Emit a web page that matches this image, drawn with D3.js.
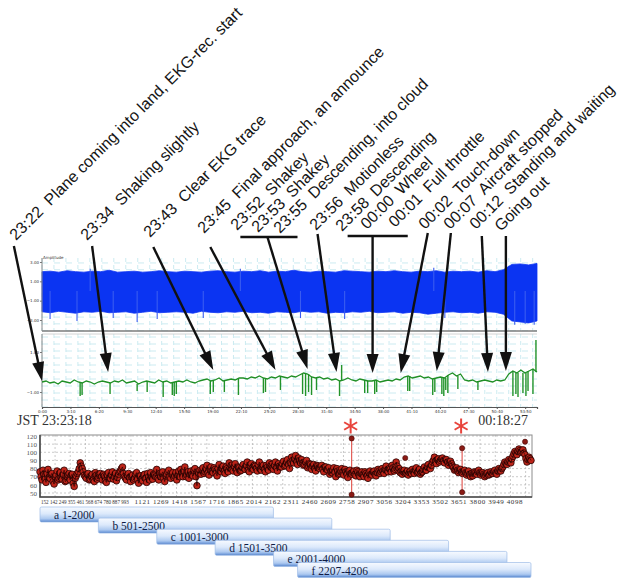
<!DOCTYPE html>
<html>
<head>
<meta charset="utf-8">
<script src="https://cdn.jsdelivr.net/npm/d3@7"></script>
<style>
  html, body { margin: 0; padding: 0; background: #fff; }
  svg { display: block; }
</style>
</head>
<body>
<svg id="chart" width="628" height="579"></svg>
<script>
// ------------------------------------------------------------------
// Recording: in-flight EKG during landing, with heart-rate trend below
// ------------------------------------------------------------------
const recordStartLabel = "JST 23:23:18";
const recordEndLabel = "00:18:27";
const recordSeconds = 3309;

// Event log (time, note)
const eventTimes = ["23:22", "23:34", "23:43", "23:45", "23:52", "23:53", "23:55",
  "23:56", "23:58", "00:00", "00:01", "00:02", "00:07", "00:12", ""];
const eventNotes = ["Plane coming into land, EKG-rec. start", "Shaking slightly",
  "Clear EKG trace", "Final approach, an announce", "Shakey", "Shakey",
  "Descending, into cloud", "Motionless", "Descending", "Wheel", "Full throttle",
  "Touch-down", "Aircraft stopped", "Standing and waiting", "Going out"];

// Callout arrows: where each one points on the EKG (seconds, trace level)
const arrowTargetSec = [0, 442, 1145, 1561, 1775, 1969, 2210, 2398, 2639, 2981, 3101];
const arrowTargetLevel = [-0.45, 0, 0.1, 0.1, 0.15, 0, -0.05, -0.05, 0.05, 0, 0.05];
// ... and where each leaves the label block (seconds along the same axis)
const arrowSourceSec = [-188, 335, 744, 1125, 1507, 1842, 2210, 2579, 2733, 2940, 3101];
// Grouping brackets under several labels (seconds)
const bracketFrom = [1326, 2043];
const bracketTo = [1708, 2445];

// Raw signal channel: envelope of the dense trace
const rawUpper = [2.0,2.05,1.95,2.1,2.0,1.95,2.05,2.0,2.15,1.95,2.0,2.05,1.95,2.0,2.1,2.0,
  1.95,2.05,2.0,1.95,2.05,2.1,2.0,1.95,2.05,2.0,2.1,1.95,2.05,2.0,2.15,2.0,1.95,2.05,2.0,
  1.95,2.1,2.05,2.0,1.95,2.05,2.0,2.1,2.0,1.95,2.05,2.0,2.1,1.95,2.05,2.0,2.05,1.95,2.1,
  2.0,2.2,2.75,2.8,2.7,2.85];
const rawLower = [-2.15,-2.25,-2.1,-2.2,-2.3,-2.15,-2.2,-2.1,-2.25,-2.2,-2.15,-2.3,-2.2,
  -2.1,-2.25,-2.2,-2.15,-2.2,-2.3,-2.1,-2.2,-2.25,-2.15,-2.2,-2.1,-2.25,-2.2,-2.3,-2.15,
  -2.2,-2.25,-2.1,-2.2,-2.15,-2.3,-2.2,-2.25,-2.15,-2.2,-2.1,-2.25,-2.2,-2.15,-2.3,-2.2,
  -2.25,-2.4,-2.3,-2.2,-2.15,-2.25,-2.2,-2.3,-2.15,-2.2,-2.4,-3.1,-3.2,-3.3,-3.1];
// Isolated excursions of the raw channel [seconds, amplitude]
const rawSpikes = [[54,-2.9],[234,-3.1],[322,2.3],[476,-2.8],[636,-3.2],[770,-2.9],
  [1078,-2.8],[1326,2.3],[1728,-2.8],[2023,-2.9],[2619,2.4],[2693,-2.8],[3160,-3.5],
  [3230,-3.4],[3290,-3.5]];

// Filtered EKG trace (baseline samples, evenly spaced over the recording)
const ekgTrace = [-0.5,-0.45,-0.55,-0.5,-0.6,-0.45,-0.5,-0.55,-0.4,-0.5,-0.55,-0.45,-0.5,
  -0.6,-0.5,
  -0.45,-0.5,-0.55,-0.45,-0.5,-0.4,-0.55,-0.5,-0.45,-0.6,-0.5,-0.45,-0.5,-0.55,-0.4,-0.5,
  -0.45,-0.55,-0.5,-0.45,-0.5,-0.4,-0.5,-0.55,-0.45,
  -0.4,-0.35,-0.45,-0.4,-0.3,-0.45,-0.4,-0.35,-0.4,-0.3,
  -0.3,-0.35,-0.25,-0.3,-0.2,-0.3,-0.35,-0.25,-0.3,-0.2,-0.25,-0.3,-0.2,-0.25,-0.15,
  -0.05,-0.1,
  -0.25,-0.3,-0.25,-0.35,-0.3,
  -0.4,-0.35,-0.45,-0.4,-0.3,-0.4,-0.45,-0.35,-0.4,-0.45,
  -0.45,-0.4,-0.5,-0.45,-0.4,-0.45,-0.35,-0.4,
  -0.25,-0.2,-0.3,-0.25,-0.2,
  -0.3,-0.25,-0.35,-0.3,-0.25,-0.3,
  -0.15,-0.05,-0.2,-0.1,
  -0.4,-0.45,-0.4,-0.5,-0.45,-0.4,-0.45,-0.5,-0.4,-0.45,-0.4,
  -0.1,0.05,-0.05,0.1,-0.05,0.05,0.15,0.0];
// Artefact deflections on the EKG [seconds, amplitude]
const ekgSpikes = [[255,-1.2],[268,-1.15],[455,-1.1],[636,-0.95],[703,-1.0],[810,-1.25],
  [871,-1.15],[884,-1.2],[898,-1.1],[1125,-1.1],[1145,-1.0],[1219,-1.0],[1313,-1.15],
  [1480,-1.05],[1494,-1.0],[1594,-0.9],[1742,-1.1],[1762,-1.2],[1782,-1.0],[1802,-1.15],
  [1835,-0.9],[1989,-1.2],[2003,0.35],[2157,-1.05],[2177,-1.05],[2224,-1.1],[2237,-1.0],
  [2445,-0.95],[2458,-0.95],[2612,-1.15],[2626,-1.0],[2673,-1.1],[2686,-1.2],[2699,-0.9],
  [2713,-1.05],[2780,-0.85],[2914,-0.9],[3148,-1.2],[3168,-1.1],[3182,-1.25],[3215,-1.05],
  [3235,-1.2],[3249,-0.95],[3282,-1.1],[3302,1.6]];

// Heart rate (bpm) over beat index 1..4206: even-numbered samples ...
const beatCount = 4206;
const heartRate = [
  76,66,73,63,79, 68,74,61,72,66, 75,67,78,65,72, 66,73,58,71,76, 87,80,72,68,74,
  67,73,64,72,69, 74,66,71,63,75, 68,76,70,65,73, 77,82,70,66,74, 64,72,68,75,62,
  71,65,73,63,70, 75,67,72,79,66, 70,76,64,73,78, 68,75,71,66,77, 79,70,82,72,68,
  77,71,80,59,74, 73,81,76,84,72, 82,75,79,71,85, 76,83,74,80,87, 84,77,86,75,81,
  78,85,79,88,76, 86,79,83,77,88, 78,84,76,82,87, 85,79,88,77,83, 82,89,84,91,80,
  94,87,96,85,90, 91,84,88,81,86, 79,85,77,83,80, 84,76,82,78,73, 75,81,70,77,74,
  80,72,76,69,78, 73,77,71,76,70, 76,70,74,68,77, 72,77,71,79,74, 80,74,83,76,79,
  84,77,88,78,75, 73,78,75,72,77, 79,74,81,76,73, 76,82,78,85,80, 88,94,86,92,90,
  93,87,91,84,89, 83,78,81,75,79, 74,78,72,77,70, 71,76,73,78,72, 75,70,74,72,76,
  74,78,73,80,77, 82,88,85,91,87, 95,101,97,104,100, 103,97,88,94,90];
// ... and the samples lying between them
const heartRateMid = [
  70,78,67,74,69, 73,64,70,77,68, 69,73,64,70,74, 72,62,68,74,80, 83,76,70,73,66,
  71,66,75,67,73, 70,73,65,72,68, 72,67,74,69,76, 80,74,68,72,69, 70,66,73,67,71,
  67,72,68,74,66, 69,73,70,68,74, 74,68,71,76,70, 73,69,75,72,70, 75,77,70,76,73,
  73,78,70,76,78, 78,74,80,75,79, 77,81,74,80,77, 80,77,82,76,81, 79,83,78,82,77,
  82,80,84,78,83, 81,84,80,85,79, 82,79,84,78,83, 80,84,81,86,82, 86,83,88,85,87,
  90,92,88,93,87, 87,85,90,83,85, 83,80,84,81,82, 80,82,79,81,76, 78,76,80,73,76,
  76,79,73,77,74, 75,73,78,72,74, 73,76,71,75,73, 76,73,75,77,76, 77,79,78,80,76,
  81,79,83,80,77, 76,74,77,75,74, 76,78,75,79,75, 79,78,82,81,84, 90,89,91,88,92,
  90,91,88,87,86, 81,79,78,77,76, 76,75,74,73,74, 74,75,76,75,74, 73,72,75,73,74,
  76,75,77,78,80, 85,86,88,89,92, 98,99,101,102,101, 99,92,91,92];
// Motion artefacts (beat index, spurious high and low readings)
const artefactBeat = [2670, 3616];
const artefactHigh = [117, 105];
const artefactLow = [48, 51];
// Stray isolated readings
const strayBeat = [3129, 4155];
const strayRate = [93, 113];

const hrTicks = [50, 60, 70, 80, 90, 100, 110, 120];
const beatLabelsShort = ["152","142","249","355","461","568","674","780","887","993"];
const beatLabelsLong = ["1121","1269","1418","1567","1716","1865","2014","2162","2311",
  "2460","2609","2758","2907","3056","3204","3353","3502","3651","3800","3949","4098"];

// Analysis windows (beat ranges)
const windowNames = ["a", "b", "c", "d", "e", "f"];
const windowStart = [1, 501, 1001, 1501, 2001, 2207];
const windowEnd = [2000, 2500, 3000, 3500, 4000, 4206];

// ------------------------------------------------------------------
const svg = d3.select("#chart");
const defs = svg.append("defs");

// ---------------- EKG panels ----------------
const tx = d3.scaleLinear().domain([0, recordSeconds]).range([42, 537]);
const topY = d3.scaleLinear().domain([-3, 3]).range([320, 262]);
const lowY = d3.scaleLinear().domain([-1, 1]).range([392, 352]);
const panelTop = [258, 331], panelLow = [334, 407];

const gridCol = "#bfe6ee";
const grid = svg.append("g");
const vSec = d3.range(0, recordSeconds + 1, 80);
[panelTop, panelLow].forEach(p => {
  grid.selectAll(null).data(vSec).join("line")
    .attr("x1", d => tx(d)).attr("x2", d => tx(d))
    .attr("y1", p[0]).attr("y2", p[1])
    .attr("stroke", gridCol).attr("stroke-width", 0.8)
    .attr("stroke-dasharray", "4,3");
});
grid.selectAll(null).data(d3.range(-4.1, 3.5, 0.7)).join("line")
  .attr("x1", 42).attr("x2", 537)
  .attr("y1", d => topY(d)).attr("y2", d => topY(d))
  .attr("stroke", gridCol).attr("stroke-width", 0.8).attr("stroke-dasharray", "6,6");
grid.selectAll(null).data(d3.range(-1.75, 1.95, 0.35)).join("line")
  .attr("x1", 42).attr("x2", 537)
  .attr("y1", d => lowY(d)).attr("y2", d => lowY(d))
  .attr("stroke", gridCol).attr("stroke-width", 0.8).attr("stroke-dasharray", "6,6");

// raw channel
const rawStep = recordSeconds / (rawUpper.length - 1);
const blue = "#0b34f2";
svg.append("path")
  .datum(d3.range(rawUpper.length))
  .attr("d", d3.area()
    .x(i => tx(i * rawStep))
    .y0(i => topY(rawLower[i]))
    .y1(i => topY(rawUpper[i])))
  .attr("fill", blue).attr("stroke", blue).attr("stroke-width", 0.8);
svg.append("g").selectAll("line").data(rawSpikes).join("line")
  .attr("x1", d => tx(d[0])).attr("x2", d => tx(d[0]))
  .attr("y1", topY(0)).attr("y2", d => topY(d[1]))
  .attr("stroke", "#3a5cf0").attr("stroke-width", 1.1);

// panel frames
svg.append("line").attr("x1", 42).attr("x2", 537).attr("y1", 331).attr("y2", 331)
  .attr("stroke", "#7d7d7d").attr("stroke-width", 1.6);
svg.append("line").attr("x1", 42).attr("x2", 537).attr("y1", 334).attr("y2", 334)
  .attr("stroke", "#c9c9c9").attr("stroke-width", 0.8);
svg.append("line").attr("x1", 42).attr("x2", 42).attr("y1", panelTop[0]).attr("y2", panelTop[1])
  .attr("stroke", "#8a8a8a").attr("stroke-width", 1);
svg.append("line").attr("x1", 42).attr("x2", 42).attr("y1", panelLow[0]).attr("y2", panelLow[1])
  .attr("stroke", "#8a8a8a").attr("stroke-width", 1);

// tiny axis annotations of the viewer
const tiny = "font-family:'DejaVu Sans',sans-serif;font-size:4px;fill:#333";
svg.append("text").attr("x", 43).attr("y", 259).attr("style", tiny).text("Amplitude");
const topAxis = svg.append("g").attr("transform", "translate(42,0)")
  .call(d3.axisLeft(topY).tickValues([3, 1, -1, -3]).tickSize(2).tickPadding(1)
    .tickFormat(d => d3.format(".2f")(d)));
topAxis.select(".domain").remove();
topAxis.selectAll("text").attr("style", tiny);
topAxis.selectAll("line").attr("stroke", "#777");
const lowAxis = svg.append("g").attr("transform", "translate(42,0)")
  .call(d3.axisLeft(lowY).tickValues([1, -1]).tickSize(2).tickPadding(1)
    .tickFormat(d => d3.format(".2f")(d)));
lowAxis.select(".domain").remove();
lowAxis.selectAll("text").attr("style", tiny);
lowAxis.selectAll("line").attr("stroke", "#777");
const timeAxis = svg.append("g").attr("transform", "translate(0,407)")
  .call(d3.axisBottom(tx).tickValues(d3.range(0, recordSeconds, 190)).tickSize(2).tickPadding(1)
    .tickFormat(d => Math.floor(d / 60) + ":" + d3.format("02")(d % 60)));
timeAxis.select(".domain").attr("stroke", "#555").attr("stroke-width", 1.2);
timeAxis.selectAll("text").attr("style", tiny);
timeAxis.selectAll("line").attr("stroke", "#555");

// filtered EKG
const ekgStep = recordSeconds / (ekgTrace.length - 1);
svg.append("g").selectAll("line").data(ekgSpikes).join("line")
  .attr("x1", d => tx(d[0])).attr("x2", d => tx(d[0]))
  .attr("y1", d => lowY(ekgTrace[Math.round(d[0] / ekgStep)]))
  .attr("y2", d => lowY(d[1]))
  .attr("stroke", "#23932a").attr("stroke-width", 1.4);
svg.append("path")
  .datum(ekgTrace)
  .attr("d", d3.line().x((d, i) => tx(i * ekgStep)).y(d => lowY(d)))
  .attr("fill", "none").attr("stroke", "#1f8f25").attr("stroke-width", 1.3);

// ---------------- Callouts ----------------
const labelAnchor = [[16,241],[87,241],[150,238],[204,234],[237,231],[258,233],[280,234],
  [316,231],[342,232],[367,230],[395,228],[425,230],[450,230],[476,230],[501,232]];
const arrowTopY = [246, 246, 247, 247, 237, 234, 236, 233, 233, 236, 236];
const bracketY = [237, 236];

const notes = svg.append("g")
  .attr("style", "font-family:'Liberation Sans',Arial,sans-serif;font-size:16px;fill:#151515");
notes.selectAll("text").data(eventNotes).join("text")
  .attr("transform", (d, i) => `translate(${labelAnchor[i][0]},${labelAnchor[i][1]}) rotate(-45)`)
  .text((d, i) => eventTimes[i] ? eventTimes[i] + "\u00a0\u00a0" + d : d);

const arrows = svg.append("g");
arrows.selectAll("line.bracket").data(bracketFrom).join("line").attr("class", "bracket")
  .attr("x1", d => tx(d)).attr("x2", (d, i) => tx(bracketTo[i]))
  .attr("y1", (d, i) => bracketY[i]).attr("y2", (d, i) => bracketY[i])
  .attr("stroke", "#111").attr("stroke-width", 2.4);

const headLen = 19, headHalf = 6;
arrowTargetSec.forEach((sec, i) => {
  const x0 = tx(arrowSourceSec[i]), y0 = arrowTopY[i];
  const x1 = tx(sec), y1 = lowY(arrowTargetLevel[i]);
  const len = Math.hypot(x1 - x0, y1 - y0);
  const ux = (x1 - x0) / len, uy = (y1 - y0) / len;
  const bx = x1 - ux * headLen, by = y1 - uy * headLen;
  arrows.append("line")
    .attr("x1", x0).attr("y1", y0).attr("x2", bx + ux * 2).attr("y2", by + uy * 2)
    .attr("stroke", "#111").attr("stroke-width", 2.4);
  arrows.append("path")
    .attr("d", `M${x1},${y1}L${bx - uy * headHalf},${by + ux * headHalf}L${bx + uy * headHalf},${by - ux * headHalf}Z`)
    .attr("fill", "#111");
});

// ---------------- Recording span ----------------
const serif = "font-family:'Liberation Serif','Times New Roman',serif;";
svg.append("text").attr("x", 17).attr("y", 425)
  .attr("style", serif + "font-size:14px;fill:#333").text(recordStartLabel);
svg.append("text").attr("x", 528).attr("y", 425).attr("text-anchor", "end")
  .attr("style", serif + "font-size:14px;fill:#333").text(recordEndLabel);

// ---------------- Heart-rate trend ----------------
const hrX = d3.scaleLinear().domain([1, beatCount]).range([40, 531]);
const hrY = d3.scaleLinear().domain([50, 120]).range([493, 436]);
const box = { x0: 40, x1: 532, y0: 435, y1: 497 };

const hrGrid = svg.append("g");
hrGrid.selectAll("line.h").data(hrTicks).join("line").attr("class", "h")
  .attr("x1", box.x0).attr("x2", box.x1)
  .attr("y1", d => hrY(d)).attr("y2", d => hrY(d))
  .attr("stroke", "#b3b3b3").attr("stroke-width", 0.7).attr("stroke-dasharray", "2,2");
hrGrid.selectAll("line.v").data(d3.range(130, beatCount, 130)).join("line").attr("class", "v")
  .attr("x1", d => hrX(d)).attr("x2", d => hrX(d))
  .attr("y1", box.y0).attr("y2", box.y1)
  .attr("stroke", "#b3b3b3").attr("stroke-width", 0.7).attr("stroke-dasharray", "2,2");

svg.append("rect").attr("x", box.x0).attr("y", box.y0)
  .attr("width", box.x1 - box.x0).attr("height", box.y1 - box.y0)
  .attr("fill", "none").attr("stroke", "#8c8c8c").attr("stroke-width", 1);
svg.append("path").attr("d", `M${box.x0},${box.y0}V${box.y1}H${box.x1}`)
  .attr("fill", "none").attr("stroke", "#4a4a4a").attr("stroke-width", 1.6);

const hrAxis = svg.append("g").attr("transform", `translate(${box.x0},0)`)
  .call(d3.axisLeft(hrY).tickValues(hrTicks).tickSize(0).tickPadding(3));
hrAxis.select(".domain").remove();
hrAxis.selectAll("text").attr("style", serif + "font-size:7px;fill:#555");

// merge both sample sets in beat order
const beatStep = (beatCount - 1) / (heartRate.length - 1);
const hrSeries = [];
heartRate.forEach((v, i) => {
  hrSeries.push({ beat: 1 + i * beatStep, bpm: v });
  if (i < heartRateMid.length) hrSeries.push({ beat: 1 + (i + 0.5) * beatStep, bpm: heartRateMid[i] });
});

// artefact excursions
artefactBeat.forEach((b, i) => {
  svg.append("line").attr("x1", hrX(b)).attr("x2", hrX(b))
    .attr("y1", hrY(artefactHigh[i])).attr("y2", hrY(artefactLow[i]))
    .attr("stroke", "#e0504a").attr("stroke-width", 1.1);
});

svg.append("g").selectAll("circle").data(hrSeries).join("circle")
  .attr("cx", d => hrX(d.beat)).attr("cy", d => hrY(d.bpm)).attr("r", 3.3)
  .attr("fill", "#bd2419").attr("stroke", "#240202").attr("stroke-width", 0.8);
svg.append("path").datum(hrSeries)
  .attr("d", d3.line().x(d => hrX(d.beat)).y(d => hrY(d.bpm)))
  .attr("fill", "none").attr("stroke", "#1a0000").attr("stroke-width", 0.9).attr("opacity", 0.7);

const endDots = [];
artefactBeat.forEach((b, i) => { endDots.push([b, artefactHigh[i]], [b, artefactLow[i]]); });
strayBeat.forEach((b, i) => endDots.push([b, strayRate[i]]));
svg.append("g").selectAll("circle").data(endDots).join("circle")
  .attr("cx", d => hrX(d[0])).attr("cy", d => hrY(d[1])).attr("r", 2.6)
  .attr("fill", "#8a1a14").attr("stroke", "#3a0505").attr("stroke-width", 0.5);

// artefact markers
artefactBeat.forEach(b => {
  const g = svg.append("g").attr("transform", `translate(${hrX(b) - 1},426)`);
  [90, 30, -30].forEach(a => {
    const r = 7.5, rad = a * Math.PI / 180;
    g.append("line")
      .attr("x1", -r * Math.cos(rad)).attr("y1", -r * Math.sin(rad))
      .attr("x2", r * Math.cos(rad)).attr("y2", r * Math.sin(rad))
      .attr("stroke", "#e8443c").attr("stroke-width", 2);
  });
});

// beat-number labels under the trend
svg.append("text").attr("x", 41).attr("y", 504)
  .attr("style", serif + "font-size:5.1px;fill:#333")
  .text(beatLabelsShort.join(" "));
svg.append("text").attr("x", 134.5).attr("y", 504)
  .attr("textLength", 388).attr("lengthAdjust", "spacing")
  .attr("style", serif + "font-size:7px;fill:#333")
  .text(beatLabelsLong.join(" "));

// ---------------- Analysis windows ----------------
const grad = defs.append("linearGradient").attr("id", "winFill")
  .attr("x1", 0).attr("y1", 0).attr("x2", 0).attr("y2", 1);
[["0%", "#f7faff"], ["45%", "#dce9fb"], ["78%", "#adc9f0"], ["90%", "#7fa6e0"], ["100%", "#4f7fc8"]]
  .forEach(s => grad.append("stop").attr("offset", s[0]).attr("stop-color", s[1]));

const win = svg.append("g");
windowNames.forEach((n, i) => {
  const x0 = hrX(windowStart[i]), x1 = hrX(windowEnd[i]);
  const y0 = 507 + i * 11.1;
  win.append("rect").attr("x", x0).attr("y", y0).attr("width", x1 - x0).attr("height", 15)
    .attr("rx", 1.5).attr("fill", "url(#winFill)")
    .attr("stroke", "#9ebbe6").attr("stroke-width", 0.7);
  win.append("text").attr("x", x0 + 14).attr("y", y0 + 12)
    .attr("style", serif + "font-size:11.5px;fill:#101c44")
    .text(n + " " + windowStart[i] + "-" + windowEnd[i]);
});
</script>
</body>
</html>
